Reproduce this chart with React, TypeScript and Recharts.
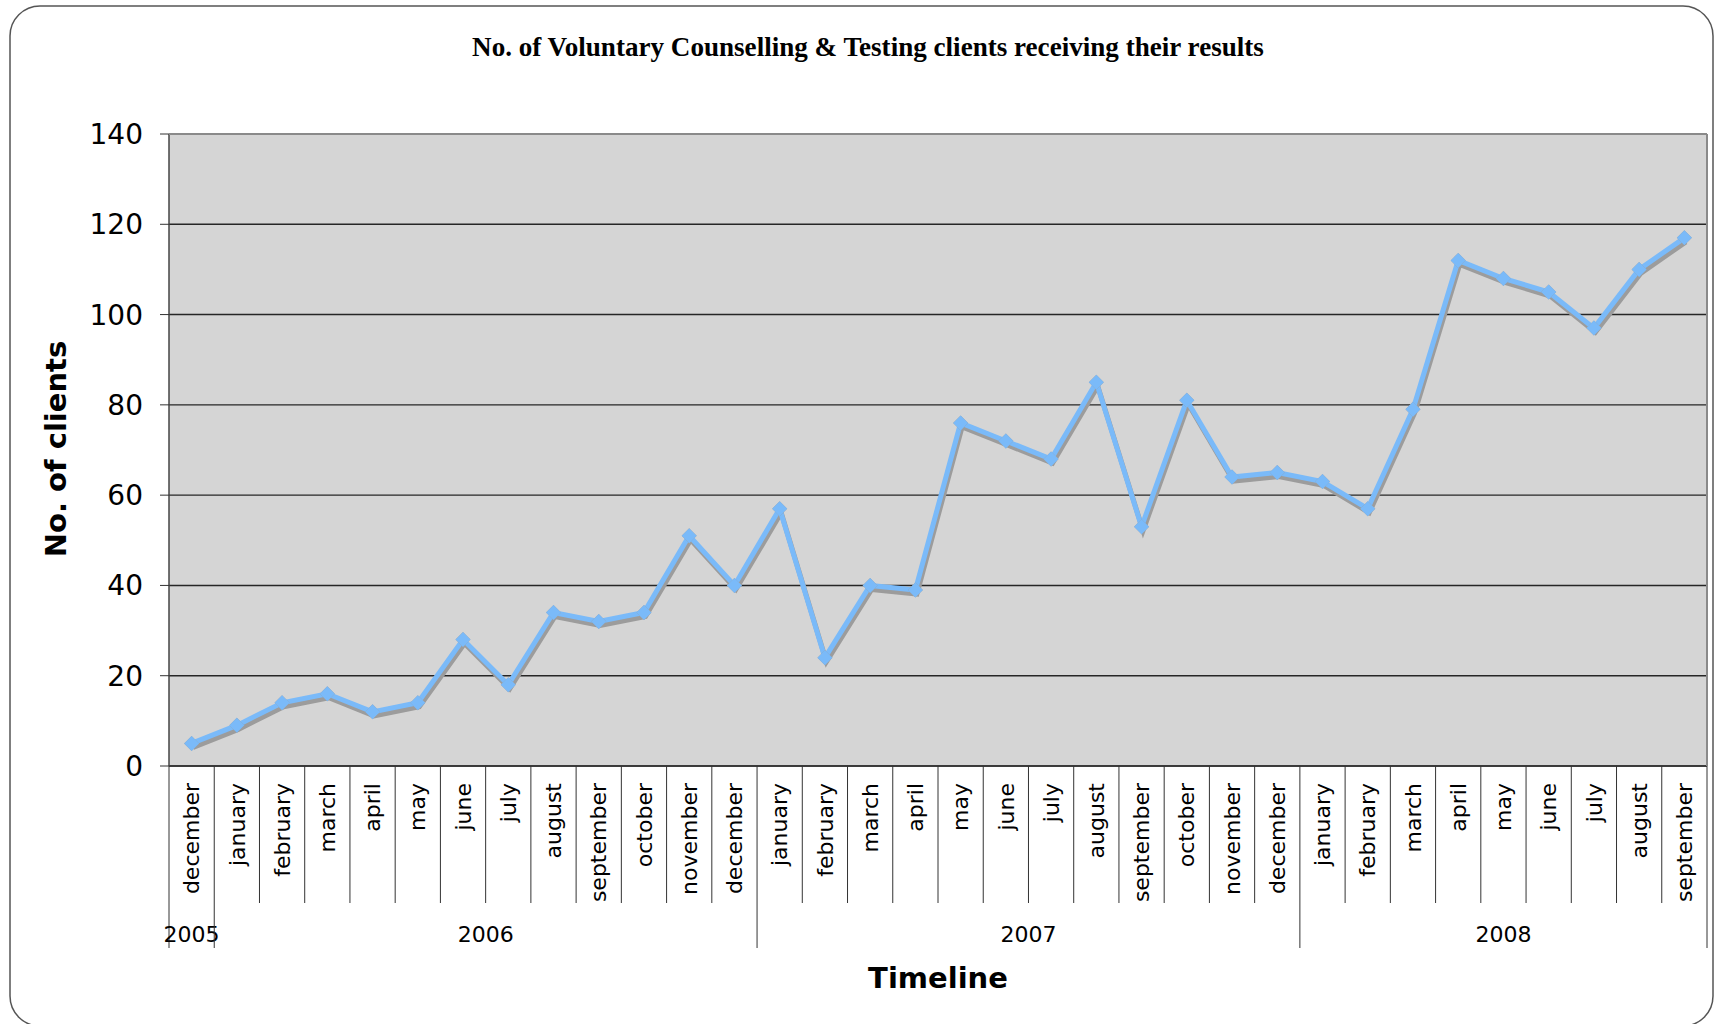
import { LineChart, Line, XAxis, YAxis, CartesianGrid } from "recharts";

// months on the timeline, Dec 2005 .. Sep 2008
const months = [
  "december",
  "january", "february", "march", "april", "may", "june",
  "july", "august", "september", "october", "november", "december",
  "january", "february", "march", "april", "may", "june",
  "july", "august", "september", "october", "november", "december",
  "january", "february", "march", "april", "may", "june",
  "july", "august", "september",
];

const monthYears = [
  "2005",
  "2006", "2006", "2006", "2006", "2006", "2006",
  "2006", "2006", "2006", "2006", "2006", "2006",
  "2007", "2007", "2007", "2007", "2007", "2007",
  "2007", "2007", "2007", "2007", "2007", "2007",
  "2008", "2008", "2008", "2008", "2008", "2008",
  "2008", "2008", "2008",
];

// clients receiving their results
const clients = [
  5, 9, 14, 16, 12, 14, 28, 18, 34, 32, 34, 51, 40,
  57, 24, 40, 39, 76, 72, 68, 85, 53, 81, 64, 65,
  63, 57, 79, 112, 108, 105, 97, 110, 117,
];

const yTicks = [0, 20, 40, 60, 80, 100, 120, 140];

const data = months.map((m, i) => ({
  id: `${monthYears[i]}-${i}`,
  month: m,
  year: monthYears[i],
  value: clients[i],
}));

const W = 1716;
const H = 1024;
const PLOT_LEFT = 169;
const PLOT_RIGHT = 1707;
const PLOT_TOP = 134;
const PLOT_BOTTOM = 766;
const BAND = (PLOT_RIGHT - PLOT_LEFT) / months.length;

const SANS = '"DejaVu Sans", Verdana, sans-serif';
const SERIF = '"Liberation Serif", "Times New Roman", serif';
const LINE_BLUE = "#7abaf9";
const SHADOW = "#9c9c9c";

function MonthTick(props: any) {
  const { x, index } = props;
  const left = x - BAND / 2;
  const right = x + BAND / 2;
  const year = monthYears[index];
  const yearStart = index === 0 || monthYears[index - 1] !== year;
  const isLast = index === months.length - 1;

  let yearLabel = null;
  if (yearStart) {
    const count = monthYears.filter((y) => y === year).length;
    yearLabel = (
      <text
        x={left + (count * BAND) / 2}
        y={942}
        textAnchor="middle"
        fontFamily={SANS}
        fontSize={22}
        fill="#000"
      >
        {year}
      </text>
    );
  }

  return (
    <g>
      <line
        x1={left}
        x2={left}
        y1={PLOT_BOTTOM}
        y2={yearStart ? 948 : 903}
        stroke="#333"
        strokeWidth={1}
      />
      {isLast && (
        <line x1={right} x2={right} y1={PLOT_BOTTOM} y2={948} stroke="#333" strokeWidth={1} />
      )}
      <text
        x={x}
        y={783}
        dy="0.35em"
        transform={`rotate(-90 ${x} 783)`}
        textAnchor="end"
        fontFamily={SANS}
        fontSize={22}
        fill="#000"
      >
        {months[index]}
      </text>
      {yearLabel}
    </g>
  );
}

function Diamond(props: any) {
  const { cx, cy, fill, index } = props;
  if (cx == null || cy == null) return null;
  const r = 7.5;
  return (
    <path
      key={`d-${index}`}
      d={`M${cx},${cy - r}L${cx + r},${cy}L${cx},${cy + r}L${cx - r},${cy}Z`}
      fill={fill}
    />
  );
}

export default function App() {
  return (
    <div style={{ position: "absolute", left: 0, top: 0, width: W, height: H, background: "#fff" }}>
      <style>{`.shadow-line { transform: translate(1.5px, 4px); }`}</style>
      <LineChart
        width={W}
        height={H}
        data={data}
        margin={{ top: PLOT_TOP, right: W - PLOT_RIGHT, bottom: 0, left: 0 }}
      >
        <CartesianGrid
          vertical={false}
          fill="#d5d5d5"
          stroke="#262626"
          strokeWidth={1.4}
        />
        <XAxis
          dataKey="id"
          scale="band"
          interval={0}
          height={H - PLOT_BOTTOM}
          tickLine={false}
          axisLine={{ stroke: "#333", strokeWidth: 1.5 }}
          tick={(p: any) => <MonthTick {...p} />}
        />
        <YAxis
          width={PLOT_LEFT}
          domain={[0, 140]}
          ticks={yTicks}
          interval={0}
          tickSize={9}
          tickMargin={17}
          axisLine={{ stroke: "#444", strokeWidth: 1.5 }}
          tickLine={{ stroke: "#333" }}
          tick={{ fontFamily: SANS, fontSize: 28, fill: "#000" }}
        />
        <Line
          className="shadow-line"
          dataKey="value"
          stroke={SHADOW}
          strokeWidth={5}
          dot={(p: any) => <Diamond {...p} fill={SHADOW} />}
          activeDot={false}
          isAnimationActive={false}
        />
        <Line
          dataKey="value"
          stroke={LINE_BLUE}
          strokeWidth={5}
          dot={(p: any) => <Diamond {...p} fill={LINE_BLUE} />}
          activeDot={false}
          isAnimationActive={false}
        />
      </LineChart>
      <svg
        width={W}
        height={H}
        style={{ position: "absolute", left: 0, top: 0, pointerEvents: "none" }}
      >
        <rect x={10} y={6} width={1703} height={1020} rx={30} fill="none" stroke="#555" strokeWidth={1.5} />
        <line x1={PLOT_LEFT} x2={PLOT_RIGHT} y1={PLOT_TOP} y2={PLOT_TOP} stroke="#8a8a8a" strokeWidth={2} />
        <line x1={PLOT_RIGHT} x2={PLOT_RIGHT} y1={PLOT_TOP} y2={PLOT_BOTTOM} stroke="#8a8a8a" strokeWidth={2} />
        <text x={868} y={56} textAnchor="middle" fontFamily={SERIF} fontWeight="bold" fontSize={27.1} fill="#000">
          No. of Voluntary Counselling &amp; Testing clients receiving their results
        </text>
        <text
          x={66}
          y={449}
          transform="rotate(-90 66 449)"
          textAnchor="middle"
          fontFamily={SANS}
          fontWeight="bold"
          fontSize={29}
          fill="#000"
        >
          No. of clients
        </text>
        <text x={938} y={988} textAnchor="middle" fontFamily={SANS} fontWeight="bold" fontSize={29} fill="#000">
          Timeline
        </text>
      </svg>
    </div>
  );
}
